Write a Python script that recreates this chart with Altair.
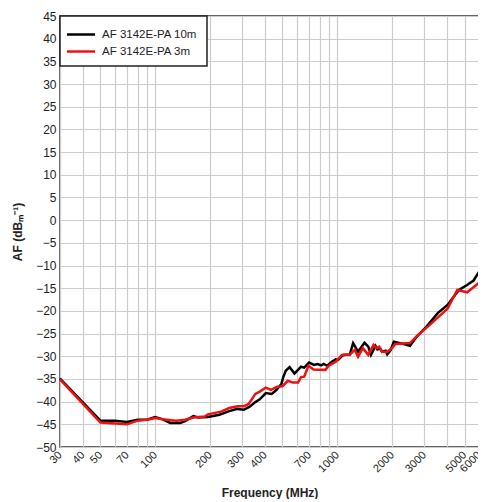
import altair as alt
import pandas as pd

f10 = [30, 50, 60, 70, 80, 90, 100, 110, 121, 137, 146, 162, 172, 195, 225, 255, 283, 307, 330, 355,
       375, 405, 436, 464, 493, 505, 521, 547, 582, 632, 658, 700, 745, 780, 815, 842, 880, 933, 981,
       1010, 1079, 1172, 1221, 1300, 1410, 1480, 1530, 1620, 1662, 1720, 1760, 1842, 1880, 1960, 2043,
       2216, 2508, 2725, 3084, 3562, 4030, 4650, 5160, 5600, 6000]
a10 = [-34.9, -44.2, -44.2, -44.5, -44.0, -44.0, -43.4, -43.9, -44.7, -44.7, -44.3, -43.2, -43.5, -43.4,
       -42.9, -42.1, -41.6, -41.8, -41.1, -40.1, -39.5, -38.1, -38.3, -37.4, -36.1, -34.6, -33.2, -32.4,
       -33.8, -32.3, -32.5, -31.4, -31.9, -31.7, -32.0, -31.7, -32.1, -31.2, -30.7, -30.8, -29.7, -29.6,
       -27.1, -29.0, -27.0, -27.9, -29.7, -27.7, -28.5, -28.3, -29.0, -28.8, -29.6, -28.7, -26.8, -27.1,
       -27.7, -25.7, -23.5, -20.5, -18.7, -15.4, -14.3, -13.3, -11.4]

f3 = [30, 50, 70, 80, 90, 100, 110, 130, 146, 162, 187, 195, 230, 255, 283, 307, 326, 355, 375, 405,
      432, 468, 500, 535, 570, 609, 632, 658, 694, 740, 860, 897, 981, 1060, 1172, 1248, 1300, 1380,
      1480, 1580, 1640, 1700, 1760, 1880, 2000, 2080, 2508, 2725, 3150, 4030, 4560, 5160, 6000]
a3 = [-35.1, -44.6, -45.0, -44.2, -44.0, -43.6, -43.9, -44.2, -44.0, -43.5, -43.3, -42.8, -42.2, -41.4,
      -41.0, -41.0, -40.5, -38.3, -37.8, -36.9, -37.4, -36.7, -36.6, -35.4, -35.8, -35.8, -34.6, -34.5,
      -32.1, -32.9, -33.0, -32.1, -31.2, -29.7, -29.6, -28.6, -30.1, -28.2, -29.7, -27.5, -28.2, -27.9,
      -29.0, -29.0, -28.2, -27.3, -27.1, -25.6, -23.4, -19.5, -15.4, -15.9, -13.8]

series = ["AF 3142E-PA 10m", "AF 3142E-PA 3m"]
colors = ["#000000", "#ee1111"]

grid_x = [30, 40, 50, 60, 70, 80, 90, 100, 200, 300, 400, 500, 600, 700, 800, 900,
          1000, 2000, 3000, 4000, 5000, 6000]
label_x = [30, 40, 50, 70, 100, 200, 300, 400, 700, 1000, 2000, 3000, 5000, 6000]
y_ticks = list(range(-50, 50, 5))

df = pd.concat([
    pd.DataFrame({"freq": f10, "af": a10, "series": series[0], "ord": 0}),
    pd.DataFrame({"freq": f3, "af": a3, "series": series[1], "ord": 1}),
])

label_expr = "indexof(" + str(label_x) + ", datum.value) >= 0 ? '' + datum.value : ''"

chart = alt.Chart(df).mark_line(strokeWidth=2.5).encode(
    x=alt.X("freq:Q",
            scale=alt.Scale(type="log", domain=[30, 6000], nice=False),
            axis=alt.Axis(values=grid_x, labelExpr=label_expr, labelAngle=315,
                          labelAlign="right", labelBaseline="middle", labelOverlap=False,
                          labelFontSize=11, labelPadding=6, ticks=False, domain=False,
                          title="Frequency (MHz)", titlePadding=14)),
    y=alt.Y("af:Q",
            scale=alt.Scale(domain=[-50, 45], nice=False),
            axis=alt.Axis(values=y_ticks, ticks=False, domain=False, labelPadding=4,
                          labelFontSize=12, title="AF (dBₘ⁻¹)", titlePadding=11)),
    color=alt.Color("series:N", scale=alt.Scale(domain=series, range=colors),
                    legend=alt.Legend(title=None, orient="top-left", offset=0,
                                      symbolType="M-1.4,0H2.0", symbolSize=272,
                                      symbolStrokeWidth=2.5, labelFontSize=11.5,
                                      labelOffset=14, padding=9, rowPadding=2,
                                      strokeColor="#222", fillColor="white")),
    order="ord:Q",
).properties(
    width=470, height=491,
    autosize=alt.AutoSizeParams(type="fit", contains="padding"),
    padding={"left": 3, "top": 2, "right": -6, "bottom": 0},
).configure_view(
    stroke="#333", strokeWidth=1.5
).configure_axis(
    gridColor="#cccccc", gridWidth=1.2, labelFont="Liberation Sans",
    labelColor="#222", titleFont="Liberation Sans", titleFontSize=12, titleFontWeight="bold",
    titleColor="#222"
).configure_legend(
    labelFont="Liberation Sans", labelColor="#222", strokeWidth=1.5
)

chart.save("out.html", embed_options={"renderer": "svg", "actions": False})
